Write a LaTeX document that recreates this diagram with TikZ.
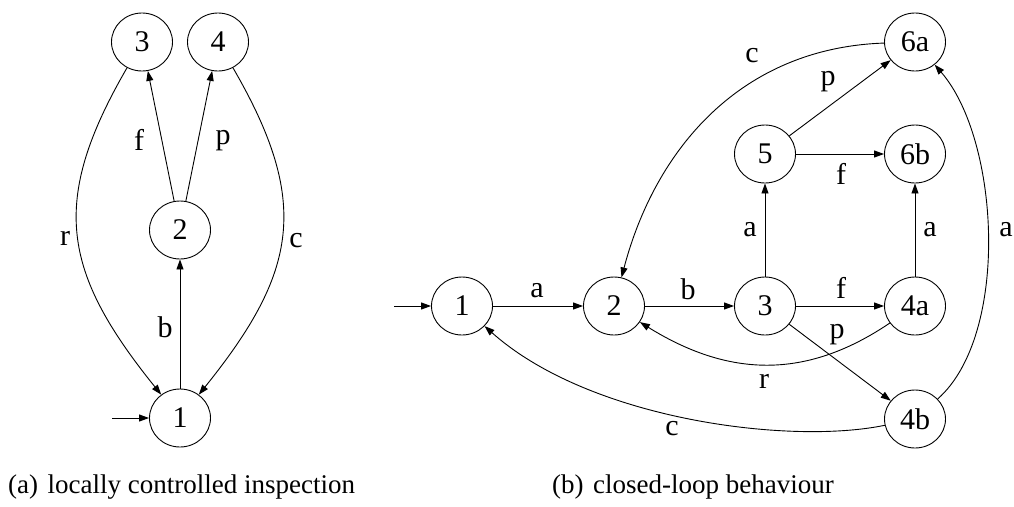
\documentclass[tikz,border=0pt]{standalone}
\usepackage{fontspec}
\setmainfont{Liberation Serif}
\usetikzlibrary{arrows.meta,shapes.geometric}
\begin{document}
\begin{tikzpicture}[x=1pt,y=-1pt,
  state/.style={draw, ellipse, minimum width=61pt, minimum height=58pt, inner sep=0pt, line width=0.9pt, font=\fontsize{30}{36}\selectfont},
  edge/.style={line width=0.9pt, -{Triangle[length=10pt,width=7pt]}},
  lab/.style={inner sep=0pt, font=\fontsize{30}{36}\selectfont},
  captext/.style={inner sep=0pt, anchor=base west, font=\fontsize{27}{32}\selectfont}]
\useasboundingbox (0,0) rectangle (1014,506);

% (a) locally controlled inspection
\node[state] (L1) at (180,418) {1};
\node[state] (L2) at (180,230) {2};
\node[state] (L3) at (142,42) {3};
\node[state] (L4) at (218,42) {4};
\coordinate (Lin) at (112,418);
\draw[edge] (Lin) -- (L1);
\draw[edge] (L1) -- (L2) node[lab] at (165,327) {b};
\draw[edge] (L2) -- (L3) node[lab] at (139,140) {f};
\draw[edge] (L2) -- (L4) node[lab] at (223,141) {p};
\draw[edge] (L3) .. controls (49.3,201.8) and (62.1,271.6) .. (L1) node[lab] at (65,238) {r};
\draw[edge] (L4) .. controls (310.7,201.8) and (297.9,271.6) .. (L1) node[lab] at (296,241) {c};
\node[captext] (capa) at (8,493) {(a)\hspace{0.35em}locally controlled inspection};

% (b) closed-loop behaviour
\node[state] (R1) at (462,306) {1};
\node[state] (R2) at (614,306) {2};
\node[state] (R3) at (765,306) {3};
\node[state] (R4a) at (915,306) {4a};
\node[state] (R4b) at (915,419) {4b};
\node[state] (R5) at (765,154) {5};
\node[state] (R6a) at (915,42) {6a};
\node[state] (R6b) at (915,154) {6b};
\coordinate (Rin) at (394,306);
\draw[edge] (Rin) -- (R1);
\draw[edge] (R1) -- (R2) node[lab] at (537,291) {a};
\draw[edge] (R2) -- (R3) node[lab] at (688,289) {b};
\draw[edge] (R3) -- (R4a) node[lab] at (841,288) {f};
\draw[edge] (R3) -- (R4b) node[lab] at (837,335) {p};
\draw[edge] (R3) -- (R5) node[lab] at (750,230) {a};
\draw[edge] (R4a) -- (R6b) node[lab] at (930,230) {a};
\draw[edge] (R5) -- (R6b) node[lab] at (841,174) {f};
\draw[edge] (R5) -- (R6a) node[lab] at (828,82) {p};
\draw[edge] (R6a) .. controls (740,48) and (655,150) .. (R2) node[lab] at (752,56) {c};
\draw[edge] (R4a) .. controls (810,377) and (733,380) .. (R2) node[lab] at (764,381) {r};
\draw[edge] (R4b) .. controls (790,445) and (590,420) .. (R1) node[lab] at (672,429) {c};
\draw[edge] (R4b) .. controls (1010,335) and (1000,140) .. (R6a) node[lab] at (1006,230) {a};
\node[captext] (capb) at (552,493) {(b)\hspace{0.35em}closed-loop behaviour};
\end{tikzpicture}
\end{document}
